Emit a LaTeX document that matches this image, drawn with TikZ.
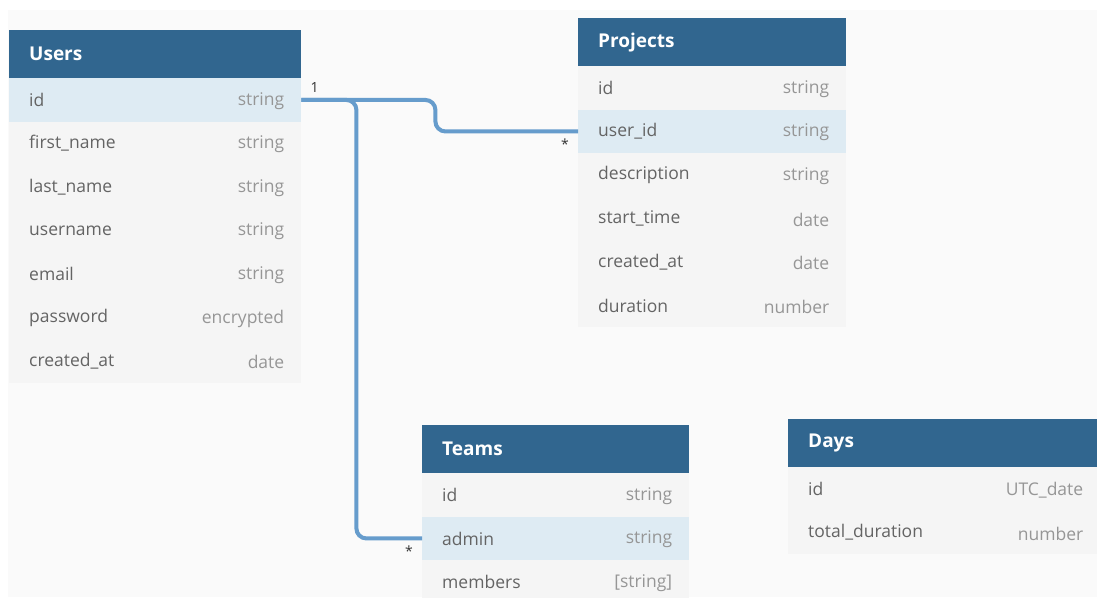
\documentclass[tikz,border=0pt]{standalone}
\usepackage{fontspec}
\setmainfont{Open Sans}
\usetikzlibrary{positioning}
\definecolor{headblue}{RGB}{49,102,143}
\definecolor{keyrow}{RGB}{222,235,243}
\definecolor{rowfill}{RGB}{245,245,245}
\definecolor{canvas}{RGB}{250,250,250}
\definecolor{namegray}{RGB}{100,100,100}
\definecolor{typegray}{RGB}{150,150,150}
\definecolor{linkblue}{RGB}{102,156,204}
\tikzset{
  head/.style={fill=headblue, text=white, font=\fontsize{19}{22}\selectfont\bfseries, anchor=north west, inner xsep=20pt, inner ysep=0pt, minimum height=48pt, align=left},
  row/.style={fill=#1, text=namegray, font=\fontsize{17.5}{20}\selectfont, anchor=north west, inner xsep=20pt, inner ysep=0pt, minimum height=43.5pt, align=left},
  type/.style={text=typegray, font=\fontsize{17.5}{20}\selectfont, anchor=east, inner sep=0pt},
  link/.style={draw=linkblue, line width=4pt, rounded corners=10pt},
  mult/.style={text=black!80, font=\fontsize{14}{16}\selectfont, anchor=base east, inner sep=0pt}
}
\begin{document}
\begin{tikzpicture}[x=1pt,y=-1pt]
\clip (0,0) rectangle (1097,597);
\fill[white] (0,0) rectangle (1097,597);
\fill[canvas] (8,10) rectangle (1097,597);

\node[head, text width=252pt] (users) at (9,30) {Users};
\foreach \n/\t/\c [count=\i] in {id/string/keyrow, first\_name/string/rowfill, last\_name/string/rowfill, username/string/rowfill, email/string/rowfill, password/encrypted/rowfill, created\_at/date/rowfill}{
  \node[row=\c, text width=252pt] (users-\i) at (9,{78+43.5*(\i-1)}) {\n};
  \node[type] (users-\i-t) at ([xshift=-17pt,yshift=-1pt]users-\i.east) {\t};
}

\node[head, text width=228pt] (projects) at (578,18) {Projects};
\foreach \n/\t/\c [count=\i] in {id/string/rowfill, user\_id/string/keyrow, description/string/rowfill, start\_time/date/rowfill, created\_at/date/rowfill, duration/number/rowfill}{
  \node[row=\c, text width=228pt] (projects-\i) at (578,{66+43.5*(\i-1)}) {\n};
  \node[type] (projects-\i-t) at ([xshift=-17pt,yshift=-1pt]projects-\i.east) {\t};
}

\node[head, text width=227pt] (teams) at (422,425) {Teams};
\foreach \n/\t/\c [count=\i] in {id/string/rowfill, admin/string/keyrow, members/{[string]}/rowfill}{
  \node[row=\c, text width=227pt] (teams-\i) at (422,{473+43.5*(\i-1)}) {\n};
  \node[type] (teams-\i-t) at ([xshift=-17pt,yshift=-1pt]teams-\i.east) {\t};
}

\node[head, text width=272pt] (days) at (788,419) {Days};
\foreach \n/\t/\c [count=\i] in {id/UTC\_date/rowfill, total\_duration/number/rowfill}{
  \node[row=\c, text width=272pt] (days-\i) at (788,{467+43.5*(\i-1)}) {\n};
  \node[type] (days-\i-t) at ([xshift=-17pt,yshift=-1pt]days-\i.east) {\t};
}

\draw[link] (users-1.east) -- ++(134,0) |- (projects-2.west);
\draw[link] (users-1.east) -- ++(55,0) |- (teams-2.west);
\node[mult, anchor=base west] (one) at ([xshift=9pt,yshift=7pt]users-1.east) {1};
\node[mult] (many-p) at ([xshift=-9pt,yshift=-18pt]projects-2.west) {*};
\node[mult] (many-t) at ([xshift=-9pt,yshift=-18pt]teams-2.west) {*};
\end{tikzpicture}
\end{document}
